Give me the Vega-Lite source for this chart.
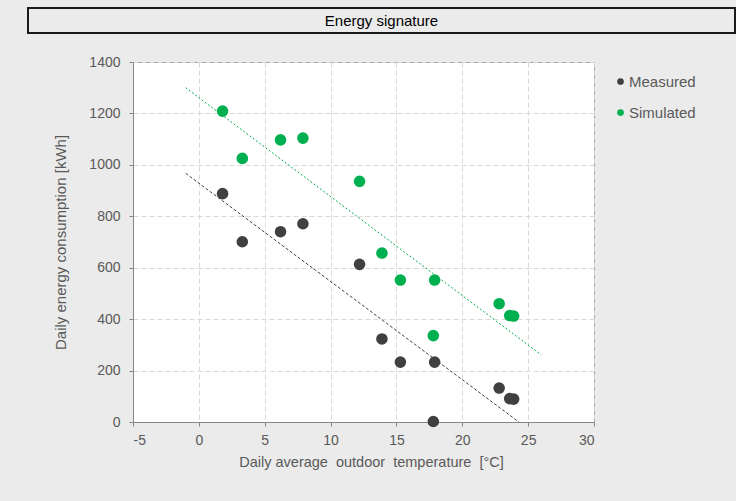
{
  "$schema": "https://vega.github.io/schema/vega-lite/v6.json",
  "background": "#EBEBEB",
  "padding": {"left": 27, "top": 7, "right": 1, "bottom": 60},
  "spacing": 29,
  "bounds": "flush",
  "resolve": {"legend": {"color": "independent"}},
  "config": {
    "view": {"stroke": null},
    "font": "Liberation Sans",
    "axis": {
      "domainColor": "#868686",
      "tickColor": "#868686",
      "tickSize": 4,
      "labelColor": "#595959",
      "labelFont": "Liberation Sans",
      "labelFontSize": 14,
      "titleFont": "Liberation Sans",
      "titleFontSize": 14,
      "titleFontWeight": "normal",
      "titleColor": "#595959",
      "gridColor": "#D9D9D9",
      "gridDash": [5, 3],
      "gridWidth": 1
    },
    "legend": {
      "labelFont": "Liberation Sans",
      "labelFontSize": 15,
      "labelColor": "#595959"
    }
  },
  "vconcat": [
    {
      "width": 707,
      "height": 25,
      "view": {"stroke": "#1A1A1A", "strokeWidth": 2, "fill": "#EBEBEB"},
      "data": {"values": [{"title": "Energy signature"}]},
      "mark": {"type": "text", "font": "Liberation Sans", "fontSize": 15, "color": "#000000"},
      "encoding": {"text": {"field": "title", "type": "nominal"}}
    },
    {
      "resolve": {"legend": {"color": "independent"}},
      "hconcat": [
        {
          "width": 105,
          "height": 360,
          "view": {"stroke": null},
          "data": {"values": []},
          "mark": "point"
        },
        {
          "width": 461,
          "height": 360,
          "view": {"fill": "#FFFFFF", "stroke": "#A0A0A0"},
          "layer": [
            {
              "data": {"values": [
                {"temp": -1, "energy": 967},
                {"temp": 24.3, "energy": 0}
              ]},
              "mark": {"type": "line", "color": "#404040", "strokeDash": [3, 2], "strokeWidth": 1},
              "encoding": {
                "x": {"field": "temp", "type": "quantitative", "scale": {"domain": [-5, 30], "nice": false},
                  "axis": {"title": "Daily average\u00a0 outdoor\u00a0 temperature\u00a0 [°C]", "titleFontSize": 14.5, "titleX": 238, "values": [-5, 0, 5, 10, 15, 20, 25, 30], "labelExpr": "'' + datum.value", "labelPadding": 7, "titlePadding": 8}},
                "y": {"field": "energy", "type": "quantitative", "scale": {"domain": [0, 1400], "nice": false},
                  "axis": {"title": "Daily energy consumption [kWh]", "titleFontSize": 15, "values": [0, 200, 400, 600, 800, 1000, 1200, 1400], "labelExpr": "'' + datum.value", "labelPadding": 9, "titlePadding": 20}}
              }
            },
            {
              "data": {"values": [
                {"temp": -1, "energy": 1300},
                {"temp": 26, "energy": 261}
              ]},
              "mark": {"type": "line", "color": "#00B050", "strokeDash": [2, 2], "strokeWidth": 1},
              "encoding": {
                "x": {"field": "temp", "type": "quantitative"},
                "y": {"field": "energy", "type": "quantitative"}
              }
            },
            {
              "data": {"values": [
                {"series": "Measured", "temp": 1.8, "energy": 888},
                {"series": "Measured", "temp": 3.3, "energy": 701},
                {"series": "Measured", "temp": 6.2, "energy": 740},
                {"series": "Measured", "temp": 7.9, "energy": 771},
                {"series": "Measured", "temp": 12.2, "energy": 613},
                {"series": "Measured", "temp": 13.9, "energy": 323},
                {"series": "Measured", "temp": 15.3, "energy": 233},
                {"series": "Measured", "temp": 17.9, "energy": 233},
                {"series": "Measured", "temp": 17.8, "energy": 2},
                {"series": "Measured", "temp": 22.8, "energy": 132},
                {"series": "Measured", "temp": 23.6, "energy": 91},
                {"series": "Measured", "temp": 23.9, "energy": 89},
                {"series": "Simulated", "temp": 1.8, "energy": 1209},
                {"series": "Simulated", "temp": 3.3, "energy": 1025},
                {"series": "Simulated", "temp": 6.2, "energy": 1097},
                {"series": "Simulated", "temp": 7.9, "energy": 1104},
                {"series": "Simulated", "temp": 12.2, "energy": 936},
                {"series": "Simulated", "temp": 13.9, "energy": 657},
                {"series": "Simulated", "temp": 15.3, "energy": 552},
                {"series": "Simulated", "temp": 17.9, "energy": 552},
                {"series": "Simulated", "temp": 17.8, "energy": 336},
                {"series": "Simulated", "temp": 22.8, "energy": 460},
                {"series": "Simulated", "temp": 23.6, "energy": 414},
                {"series": "Simulated", "temp": 23.9, "energy": 412}
              ]},
              "mark": {"type": "circle", "size": 135, "opacity": 1},
              "encoding": {
                "x": {"field": "temp", "type": "quantitative"},
                "y": {"field": "energy", "type": "quantitative"},
                "color": {
                  "field": "series", "type": "nominal",
                  "scale": {"domain": ["Measured", "Simulated"], "range": ["#404040", "#00B050"]},
                  "legend": {"title": null, "orient": "right", "offset": 7, "padding": 12, "symbolType": "circle", "symbolSize": 45, "rowPadding": 15, "labelOffset": 1}
                }
              }
            }
          ]
        }
      ],
      "spacing": 0,
      "bounds": "flush"
    }
  ]
}
